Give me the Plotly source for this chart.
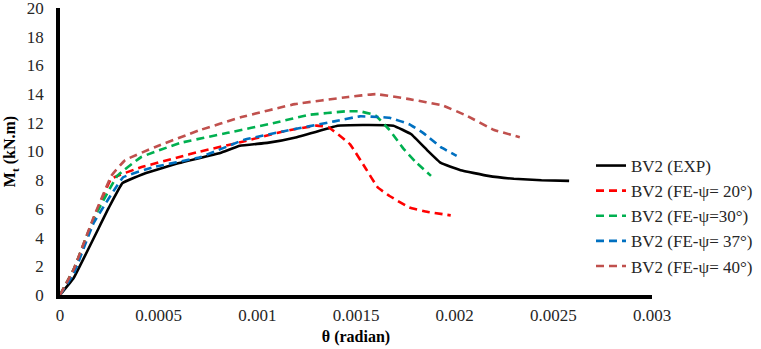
import plotly.graph_objects as go

# ---- data ----
exp_x = [0, 0.00007, 0.000248, 0.000317, 0.000436, 0.000604, 0.000812, 0.000911, 0.00105, 0.0012,
         0.001356, 0.001406, 0.001535, 0.00169, 0.00178, 0.00186, 0.00193, 0.00203, 0.00217, 0.0023,
         0.00244, 0.00258]
exp_y = [0, 1.2, 6.1, 7.8, 8.5, 9.2, 9.9, 10.4, 10.6, 11.0, 11.6, 11.8, 11.85, 11.8, 11.2, 10.1,
         9.2, 8.7, 8.3, 8.1, 8.0, 7.95]

fe20_x = [0, 0.00007, 0.00017, 0.00026, 0.00041, 0.0006, 0.00071, 0.00093, 0.00113, 0.0013, 0.00136,
          0.00147, 0.00155, 0.00161, 0.00167, 0.00177, 0.00186, 0.00198]
fe20_y = [0, 1.8, 5.3, 8.1, 8.9, 9.6, 10.0, 10.7, 11.4, 11.8, 11.7, 10.5, 8.8, 7.5, 6.9, 6.1, 5.8, 5.55]

fe30_x = [0, 0.00007, 0.00017, 0.00029, 0.00041, 0.00061, 0.00085, 0.00109, 0.00126, 0.00145, 0.00152,
          0.00158, 0.0016, 0.00167, 0.00174, 0.0018, 0.00188]
fe30_y = [0, 1.8, 5.3, 8.3, 9.6, 10.6, 11.3, 12.0, 12.55, 12.8, 12.8, 12.6, 12.5, 11.5, 10.2, 9.3, 8.3]

fe37_x = [0, 0.00007, 0.00017, 0.00032, 0.00047, 0.00071, 0.00093, 0.00113, 0.00139, 0.00152, 0.00162,
          0.00167, 0.00177, 0.00184, 0.00193, 0.00201]
fe37_y = [0, 1.5, 5.0, 8.2, 8.9, 9.6, 10.8, 11.4, 12.1, 12.45, 12.4, 12.35, 11.9, 11.3, 10.3, 9.7]

fe40_x = [0, 0.00007, 0.00017, 0.00026, 0.00033, 0.00048, 0.0007, 0.00092, 0.00119, 0.00146, 0.0016,
          0.00177, 0.00194, 0.00206, 0.0022, 0.00233]
fe40_y = [0, 1.8, 5.4, 8.3, 9.4, 10.3, 11.45, 12.4, 13.3, 13.8, 14.0, 13.65, 13.2, 12.5, 11.5, 11.0]

names = ["BV2 (EXP)", "BV2 (FE-ψ= 20°)", "BV2 (FE-ψ=30°)", "BV2 (FE-ψ= 37°)", "BV2 (FE-ψ= 40°)"]
x_ticks = [0, 0.0005, 0.001, 0.0015, 0.002, 0.0025, 0.003]
x_tick_labels = ["0", "0.0005", "0.001", "0.0015", "0.002", "0.0025", "0.003"]
y_ticks = [0, 2, 4, 6, 8, 10, 12, 14, 16, 18, 20]

series = [(exp_x, exp_y), (fe20_x, fe20_y), (fe30_x, fe30_y), (fe37_x, fe37_y), (fe40_x, fe40_y)]
colors = ["#000000", "#FF0000", "#00B050", "#0070C0", "#C0504D"]
dashes = ["solid", "8px,5px", "8px,5px", "8px,5px", "8px,5px"]

FONT = "Liberation Serif"

fig = go.Figure()
for (xs, ys), n, c, d in zip(series, names, colors, dashes):
    fig.add_trace(go.Scatter(x=xs, y=ys, name=n, mode="lines",
                             line=dict(color=c, width=2.6, dash=d, shape="spline", smoothing=0.25)))

fig.update_layout(
    width=761, height=349,
    margin=dict(l=60, r=109, t=8, b=54, autoexpand=False),
    paper_bgcolor="white", plot_bgcolor="white",
    font=dict(family=FONT, size=17, color="#262626"),
    showlegend=True,
    legend=dict(x=(591 - 60) / 592, y=1 - (148 - 8) / 287,
                xanchor="left", yanchor="top",
                bgcolor="rgba(255,255,255,0)", font=dict(family=FONT, size=17, color="#262626"),
                tracegroupgap=0),
    xaxis=dict(range=[0, 0.003], tickvals=x_ticks, ticktext=x_tick_labels,
               showgrid=False, zeroline=False, showline=True, linecolor="black", linewidth=3.5,
               ticks="", ticklabelstandoff=2, automargin=False, ticklabeloverflow="allow",
               title=dict(text="<b>θ (radian)</b>", font=dict(family=FONT, size=16, color="black"),
                          standoff=8)),
    yaxis=dict(range=[0, 20], tickvals=y_ticks,
               showgrid=False, zeroline=False, showline=True, linecolor="black", linewidth=3.5,
               ticks="", ticklabelstandoff=9, automargin=False, ticklabeloverflow="allow",
               title=dict(text="<b>M<sub>t</sub> (kN.m)</b>", font=dict(family=FONT, size=16, color="black"),
                          standoff=8)),
)

fig.write_html("out.html")
